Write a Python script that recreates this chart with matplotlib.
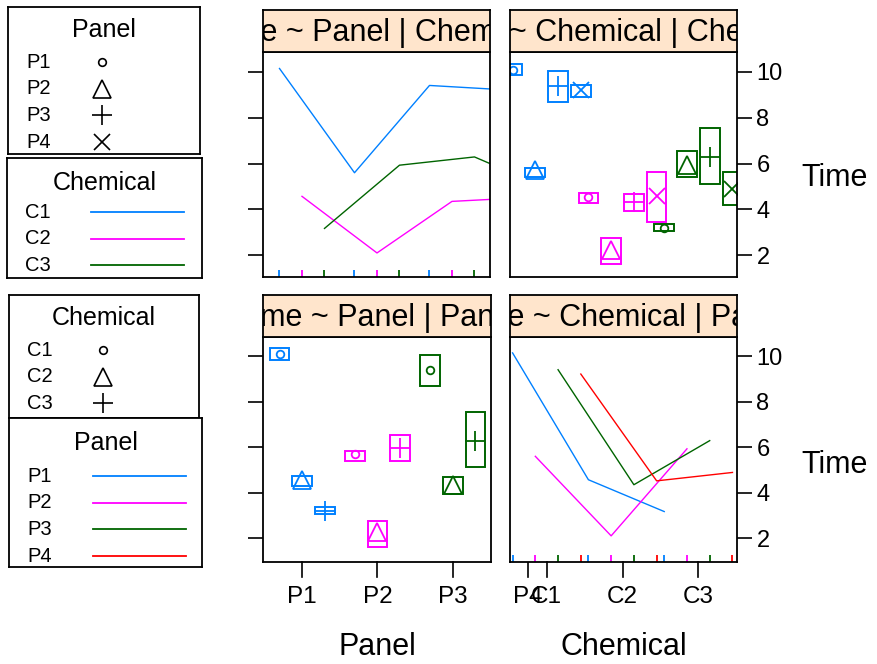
import numpy as np
import matplotlib.pyplot as plt
from matplotlib.patches import Rectangle

plt.rcParams['font.family'] = ['Liberation Sans', 'DejaVu Sans']

# ===== DATA =====
panels = ['P1', 'P2', 'P3', 'P4']
chemicals = ['C1', 'C2', 'C3']

# Time per cell, rows = chemical, columns = panel
time_mean = [[10.15, 5.60, 9.41, 9.22],
             [4.57, 2.10, 4.35, 4.52],
             [3.17, 5.93, 6.29, 4.89]]
time_q1 = [[9.85, 5.40, 8.68, 8.92],
           [4.30, 1.60, 3.95, 3.46],
           [3.05, 5.40, 5.12, 4.19]]
time_med = [[10.10, 5.70, 9.40, 9.20],
            [4.55, 2.25, 4.33, 4.57],
            [3.20, 5.95, 6.28, 4.90]]
time_q3 = [[10.35, 5.82, 10.06, 9.43],
           [4.72, 2.75, 4.68, 5.64],
           [3.35, 6.55, 7.55, 5.62]]

y_ticks = [2, 4, 6, 8, 10]

# ===== STYLE =====
panel_colors = ['#0080ff', '#ff00ff', '#006400', '#ff0000']
chem_colors = ['#0080ff', '#ff00ff', '#006400']
panel_markers = ['o', '^', '+', 'x']
chem_markers = ['o', '^', '+']
msize = {'o': 5.5, '^': 13, '+': 15, 'x': 11}
chem_off = [-0.3, 0.0, 0.3]
panel_off = [-0.45, -0.15, 0.15, 0.45]
box_w = 0.26
strip_col = '#ffe5cc'

W, H = 877, 664
fig = plt.figure(figsize=(W / 100, H / 100), dpi=100)


def px_axes(x0, y0, x1, y1):
    return fig.add_axes([x0 / W, 1 - y1 / H, (x1 - x0) / W, (y1 - y0) / H])


def frame(ax):
    for s in ax.spines.values():
        s.set_linewidth(1.3)


def strip(x0, y0, x1, y1, text):
    ax = px_axes(x0, y0, x1, y1)
    ax.set_facecolor(strip_col)
    ax.set_xticks([])
    ax.set_yticks([])
    frame(ax)
    ax.text(0.5, 0.45, text, ha='center', va='center', fontsize=22,
            transform=ax.transAxes, clip_on=True)


def rug(ax, xs, color):
    ax.vlines(xs, 0, 0.032, color=color, lw=1.3, transform=ax.get_xaxis_transform())


def box(ax, x, lo, med, hi, color, marker):
    ax.add_patch(Rectangle((x - box_w / 2, lo), box_w, hi - lo, fill=False,
                           edgecolor=color, lw=1.4))
    ax.plot([x], [med], marker=marker, color=color, mfc='none',
            ms=msize[marker], mew=1.3)


def left_y(ax):
    ax.set_yticks(y_ticks)
    ax.tick_params(axis='y', direction='out', length=11, width=1.2, labelleft=False)
    ax.set_xticks([])


def right_y(ax, label_y):
    ax.yaxis.tick_right()
    ax.set_yticks(y_ticks)
    ax.tick_params(axis='y', direction='out', length=11, width=1.2, labelsize=17, pad=3)
    ax.set_xticks([])
    ax.yaxis.set_label_position('right')
    ax.set_ylabel('Time', rotation=0, fontsize=22, ha='left', va='center')
    ax.yaxis.set_label_coords(1.285, label_y)


def bottom_ticks(ax, xs, labels):
    tr = ax.get_xaxis_transform()
    for x, lab in zip(xs, labels):
        ax.plot([x, x], [0, -0.067], color='black', lw=1.2, transform=tr, clip_on=False)
        ax.text(x, -0.155, lab, ha='center', va='center', fontsize=17.5,
                transform=tr, clip_on=False)


# ===== PANELS =====
ax_tl = px_axes(263, 52, 490, 277)
ax_tr = px_axes(510, 52, 737, 277)
ax_bl = px_axes(263, 337, 491, 562)
ax_br = px_axes(510, 337, 737, 562)

for ax in (ax_tl, ax_bl):
    ax.set_xlim(0.48, 3.507)
for ax in (ax_tr, ax_br):
    ax.set_xlim(0.516, 3.51)
ax_tl.set_ylim(1.05, 10.87)
ax_tr.set_ylim(1.05, 10.87)
ax_bl.set_ylim(0.95, 10.85)
ax_br.set_ylim(0.95, 10.85)

# Time ~ Panel | Chemical (interaction lines)
for ci in range(len(chemicals)):
    xs = [pi + 1 + chem_off[ci] for pi in range(len(panels))]
    ax_tl.plot(xs, time_mean[ci], color=chem_colors[ci], lw=1)
    rug(ax_tl, xs, chem_colors[ci])

# Time ~ Chemical | Panel (interaction lines)
for pi in range(len(panels)):
    xs = [ci + 1 + panel_off[pi] for ci in range(len(chemicals))]
    ys = [time_mean[ci][pi] for ci in range(len(chemicals))]
    ax_br.plot(xs, ys, color=panel_colors[pi], lw=1)
    rug(ax_br, xs, panel_colors[pi])

# Time ~ Chemical | Chemical (boxes)
for ci in range(len(chemicals)):
    for pi in range(len(panels)):
        box(ax_tr, ci + 1 + panel_off[pi], time_q1[ci][pi], time_med[ci][pi],
            time_q3[ci][pi], chem_colors[ci], panel_markers[pi])

# Time ~ Panel | Panel (boxes)
for pi in range(len(panels)):
    for ci in range(len(chemicals)):
        box(ax_bl, pi + 1 + chem_off[ci], time_q1[ci][pi], time_med[ci][pi],
            time_q3[ci][pi], panel_colors[pi], chem_markers[ci])

left_y(ax_tl)
left_y(ax_bl)
right_y(ax_tr, 0.44)
right_y(ax_br, 0.43)
for ax in (ax_tl, ax_tr, ax_bl, ax_br):
    frame(ax)

bottom_ticks(ax_bl, [i + 1 for i in range(len(panels))], panels)
bottom_ticks(ax_br, [i + 1 for i in range(len(chemicals))], chemicals)
ax_bl.text(0.5, -0.376, 'Panel', ha='center', va='center', fontsize=22,
           transform=ax_bl.transAxes)
ax_br.text(0.5, -0.376, 'Chemical', ha='center', va='center', fontsize=22,
           transform=ax_br.transAxes)

strip(263, 10, 490, 52, 'Time ~ Panel | Chemical')
strip(510, 10, 737, 52, 'Time ~ Chemical | Chemical')
strip(263, 295, 491, 337, 'Time ~ Panel | Panel')
strip(510, 295, 737, 337, 'Time ~ Chemical | Panel')


# ===== LEGENDS =====
def legend_box(x0, y0, x1, y1, title, labels, title_y, item_y, step,
               markers=None, colors=None):
    ax = px_axes(x0, y0, x1, y1)
    ax.set_xlim(0, x1 - x0)
    ax.set_ylim(y1 - y0, 0)
    ax.set_xticks([])
    ax.set_yticks([])
    frame(ax)
    ax.text((x1 - x0) / 2, title_y, title, ha='center', va='center', fontsize=18)
    for i, lab in enumerate(labels):
        y = item_y + i * step
        ax.text(18, y, lab, ha='left', va='center', fontsize=14.5)
        if markers is not None:
            ax.plot([94], [y], marker=markers[i], color='black', mfc='none',
                    ms=msize[markers[i]], mew=1.2)
        else:
            ax.plot([84, 177], [y, y], color=colors[i], lw=1.3)


legend_box(8, 7, 200, 154, 'Panel', panels, 23, 55, 26.7, markers=panel_markers)
legend_box(7, 158, 202, 278, 'Chemical', chemicals, 25, 54, 26.7, colors=chem_colors)
legend_box(9, 295, 199, 418, 'Chemical', chemicals, 23, 55, 26.7, markers=chem_markers)
legend_box(9, 418, 202, 567, 'Panel', panels, 25, 58, 26.7, colors=panel_colors)

fig.savefig('out.png', dpi=100)
